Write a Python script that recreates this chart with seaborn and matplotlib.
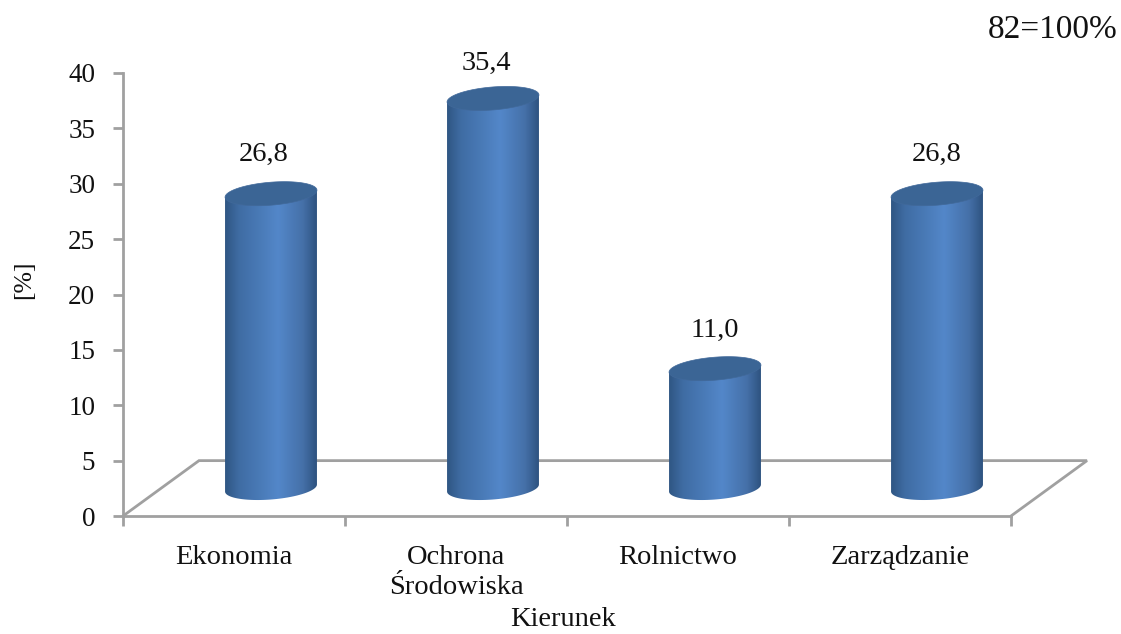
import numpy as np
import matplotlib
matplotlib.use('Agg')
import matplotlib.pyplot as plt
import seaborn as sns
from matplotlib.colors import LinearSegmentedColormap
from matplotlib.patches import Polygon

# data
categories = ['Ekonomia', 'Ochrona\nŚrodowiska', 'Rolnictwo', 'Zarządzanie']
percent = [26.8, 35.4, 11.0, 26.8]
y_ticks = [0, 5, 10, 15, 20, 25, 30, 35, 40]

# layout in pixels of the 1121x634 picture
W, H = 1121, 634
AX_LEFT, AX_RIGHT = 123, 1011
AX_TOP, AX_BOTTOM = 73, 516
DEPTH_X, DEPTH_Y = 37, 28
PX_PER_UNIT = (AX_BOTTOM - AX_TOP) / 40
UNIT_X = (AX_RIGHT - AX_LEFT) / 4
BELOW = 3  # room under the bars for the rounded bottom
CAP_DROP = 2.5 / PX_PER_UNIT  # caps sit a little under the bar height

AXIS_COLOR = '#a0a0a0'
TEXT_COLOR = '#111111'
LABEL_SIZE = 20.5

sns.set_style('white')
plt.rcParams['font.family'] = ['Liberation Serif', 'DejaVu Serif']
plt.rcParams['font.size'] = LABEL_SIZE
plt.rcParams['text.color'] = TEXT_COLOR

cyl = LinearSegmentedColormap.from_list(
    'cyl', [(0, '#2f5683'), (0.15, '#3f6ca3'), (0.58, '#5387c9'), (0.85, '#4570a8'), (1, '#2e5380')])

fig = plt.figure(figsize=(W / 100, H / 100), dpi=100)
ax = fig.add_axes([AX_LEFT / W, 1 - AX_BOTTOM / H, (AX_RIGHT - AX_LEFT) / W, (AX_BOTTOM - AX_TOP) / H])
ax.set_xlim(-0.5, 3.5)
ax.set_ylim(0, 40)

# axes, floor of the 3D box
for side in ['top', 'right']:
    ax.spines[side].set_visible(False)
for side in ['left', 'bottom']:
    ax.spines[side].set_color(AXIS_COLOR)
    ax.spines[side].set_linewidth(2)
ax.set_yticks(y_ticks)
ax.set_xticks(range(len(categories)))
ax.set_xticklabels(categories, linespacing=1.25)
ax.set_xticks(np.arange(-0.5, 4, 1), minor=True)
ax.tick_params(axis='x', which='major', length=0, pad=21, labelsize=LABEL_SIZE, labelcolor=TEXT_COLOR)
ax.tick_params(axis='x', which='minor', length=7, width=2, color=AXIS_COLOR, bottom=True)
ax.tick_params(axis='y', length=7, width=2, color=AXIS_COLOR, pad=13, labelsize=19.5,
               labelcolor=TEXT_COLOR, left=True)

floor_dx = 76 / UNIT_X
ax.plot([-0.5, -0.5 + floor_dx, 3.5 + floor_dx, 3.5], [0, 5, 5, 0],
        color=AXIS_COLOR, lw=2, clip_on=False, solid_joinstyle='miter')

# bars live in a second axes, moved back into the depth of the box
ax_b = fig.add_axes([(AX_LEFT + DEPTH_X) / W,
                     1 - (AX_BOTTOM - DEPTH_Y + BELOW * PX_PER_UNIT) / H,
                     (AX_RIGHT - AX_LEFT) / W,
                     (AX_BOTTOM - AX_TOP + BELOW * PX_PER_UNIT) / H])
ax_b.patch.set_alpha(0)
sns.barplot(x=categories, y=percent, ax=ax_b, width=0.414, color='#4f81bd', saturation=1)
ax_b.set_xlim(-0.5, 3.5)
ax_b.set_ylim(-BELOW, 40)
ax_b.axis('off')

labels = [f'{v:.1f}'.replace('.', ',') for v in percent]
value_labels = ax_b.bar_label(ax_b.containers[0], labels=labels, padding=17.5,
                              fontsize=LABEL_SIZE, color=TEXT_COLOR)
# hand nudges for the value labels, in points
for lab, nudge in zip(value_labels, [(-5, 0), (-5, -3), (0, -1), (0, 0)]):
    lab.xyann = (lab.xyann[0] + nudge[0], lab.xyann[1] + nudge[1])

# turn the flat bars into cylinders
t = np.linspace(0, 2 * np.pi, 120)
rim_b = 11.5 / PX_PER_UNIT
rim_tilt = 3.5 / PX_PER_UNIT
grad = np.linspace(0, 1, 256).reshape(1, -1)
for bar in ax_b.containers[0]:
    x0 = bar.get_x()
    x1 = x0 + bar.get_width()
    top = bar.get_height() - CAP_DROP
    cx = (x0 + x1) / 2
    a = bar.get_width() / 2
    bar.set_visible(False)

    ex = cx + a * np.cos(t)
    ey = rim_b * np.sin(t) + rim_tilt * np.cos(t)
    low = t >= np.pi
    order = np.argsort(-ex[low])
    arc = np.column_stack([ex[low][order], ey[low][order]])
    body = np.vstack([[x0, top - rim_tilt], [x1, top + rim_tilt], arc])
    shape = Polygon(body, closed=True, transform=ax_b.transData, fc='none', ec='none')
    ax_b.add_patch(shape)
    im = ax_b.imshow(grad, cmap=cyl, aspect='auto', extent=[x0, x1, -rim_b * 1.3, top + rim_b],
                     zorder=3, interpolation='bilinear')
    im.set_clip_path(shape)
    ax_b.add_patch(Polygon(np.column_stack([ex, top + ey]), closed=True, fc='#3b6595', ec='#41699a',
                           lw=0.5, zorder=4))
ax_b.set_xlim(-0.5, 3.5)
ax_b.set_ylim(-BELOW, 40)

fig.text(988 / W, 1 - 38 / H, '82=100%', ha='left', va='baseline', fontsize=24)
fig.text(24 / W, 1 - 280 / H, '[%]', rotation=90, ha='center', va='center', fontsize=18.5)
fig.text(563 / W, 1 - 626 / H, 'Kierunek', ha='center', va='baseline', fontsize=LABEL_SIZE)

fig.savefig('out.png', dpi=100, facecolor='white')
